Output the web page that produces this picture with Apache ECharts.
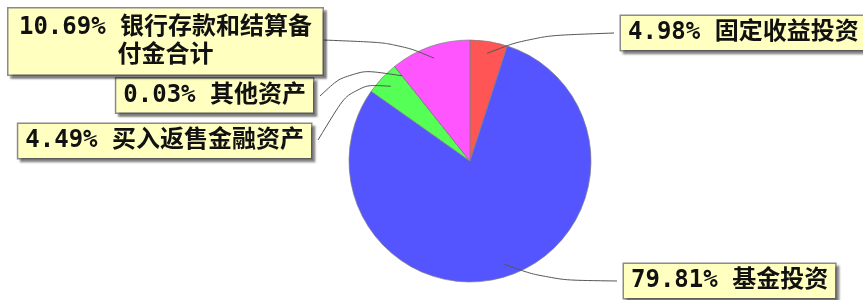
<!DOCTYPE html>
<html><head><meta charset="utf-8">
<script src="https://cdn.jsdelivr.net/npm/echarts@6/dist/echarts.min.js"></script>
<style>html,body{margin:0;padding:0;background:#fff}#c{width:863px;height:300px}</style>
</head><body><div id="c"></div>
<script>
// ---- data ----
const categories = ['固定收益投资', '基金投资', '买入返售金融资产', '其他资产', '银行存款和结算备付金合计'];
const values = [4.98, 79.81, 4.49, 0.03, 10.69];

// ---- style ----
const colors = ['#ff5555', '#5555ff', '#55ff55', '#ffff55', '#ff55ff'];
const CX = 470, CY = 161, R = 121;
const labelPos = [
  { x: 621, y: 33, align: 'left', elbow: [532, 36], end: [614, 33] },
  { x: 624, y: 281, align: 'left', elbow: [548, 280], end: [617, 281] },
  { x: 311, y: 141, align: 'right', elbow: [352, 84], end: [318, 140] },
  { x: 313, y: 95.5, align: 'right', elbow: [350, 68], end: [320, 96] },
  { x: 165.5, y: 41.5, align: 'center', elbow: [398, 43], end: [323, 40] }
];

const total = values.reduce((a, b) => a + b, 0);
let acc = 0;
const mids = values.map(v => { const m = 90 - (acc + v / 2) / total * 360; acc += v; return m; });

const base = {
  type: 'pie',
  center: [CX, CY],
  radius: R,
  startAngle: 90,
  clockwise: true,
  avoidLabelOverlap: false
};

const chart = echarts.init(document.getElementById('c'), null, { renderer: 'canvas' });
chart.setOption({
  animation: false,
  backgroundColor: '#ffffff',
  graphic: [
    { type: 'text', left: 530, top: -19, style: { text: '(', font: '20px "DejaVu Sans"', fill: '#333' } },
    { type: 'text', left: 818, top: -19, style: { text: ')', font: '20px "DejaVu Sans"', fill: '#333' } }
  ],
  series: [
    Object.assign({}, base, {
      z: 1,
      silent: true,
      itemStyle: { borderColor: '#808080', borderWidth: 0.7 },
      label: { show: false },
      labelLine: { show: false },
      data: categories.map((n, i) => ({ name: n, value: values[i], itemStyle: { color: colors[i] } }))
    }),
    Object.assign({}, base, {
      z: 3,
      itemStyle: { color: 'rgba(0,0,0,0)', borderWidth: 0 },
      label: {
        show: true,
        position: 'outside',
        formatter: p => values[p.dataIndex].toFixed(2) + '% ' + categories[p.dataIndex],
        fontFamily: '"DejaVu Sans Mono", "Noto Sans CJK SC", monospace',
        fontWeight: 'bold',
        fontSize: 24,
        lineHeight: 28,
        color: '#111',
        backgroundColor: '#ffffc0',
        borderColor: '#8a8a8a',
        borderWidth: 1.5,
        padding: [3, 7],
        shadowColor: 'rgba(0,0,0,0.35)',
        shadowBlur: 2,
        shadowOffsetX: 3,
        shadowOffsetY: 3
      },
      labelLine: {
        show: true,
        smooth: 0.4,
        lineStyle: { color: '#555', width: 1 }
      },
      labelLayout: function (p) {
        const L = labelPos[p.dataIndex];
        const m = mids[p.dataIndex] * Math.PI / 180;
        const p0 = [CX + 0.9 * R * Math.cos(m), CY - 0.9 * R * Math.sin(m)];
        return {
          x: L.x, y: L.y, align: L.align, verticalAlign: 'middle',
          labelLinePoints: [p0, L.elbow, L.end]
        };
      },
      data: categories.map((n, i) => {
        const d = { name: n, value: values[i] };
        if (i === 4) d.label = { width: 300, overflow: 'break', align: 'center', padding: [5, 7] };
        return d;
      })
    })
  ]
});
</script></body></html>
